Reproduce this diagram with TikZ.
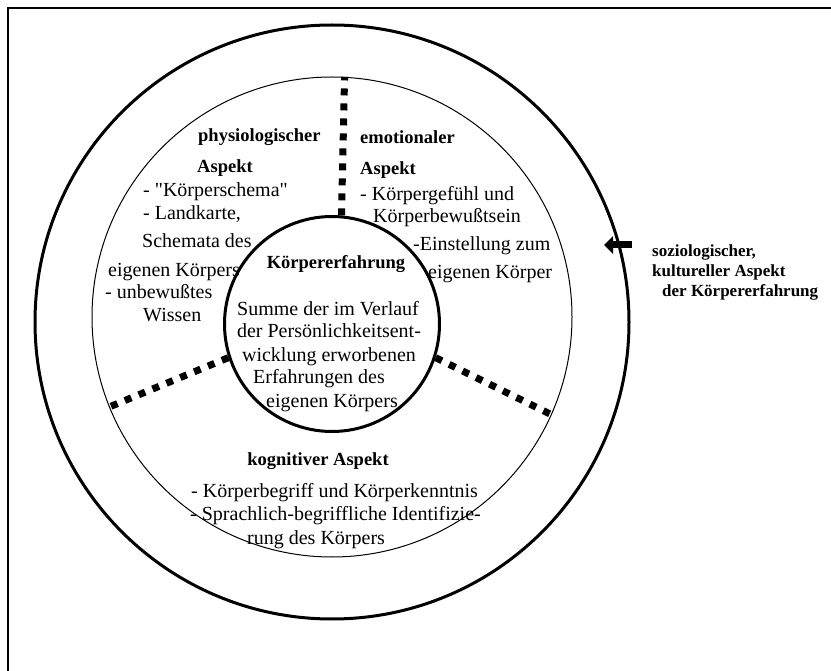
\documentclass[tikz,border=0pt]{standalone}
\usepackage{fontspec}
\setmainfont{Liberation Serif}[Ligatures=TeXOff]
\usetikzlibrary{arrows.meta}
\begin{document}
\begin{tikzpicture}[x=1pt,y=-1pt,
  body/.style={font=\fontsize{20}{23}\selectfont, inner sep=0pt, anchor=base west},
  bodyc/.style={body, anchor=base},
  head/.style={font=\fontsize{18.5}{21}\selectfont\bfseries, inner sep=0pt, anchor=base west},
  headc/.style={head, anchor=base},
  side/.style={font=\fontsize{17}{19}\selectfont\bfseries, inner sep=0pt, anchor=base west},
  ring/.style={circle, draw, inner sep=0pt},
  divider/.style={line width=7pt, dash pattern=on 7pt off 8pt},
]
\useasboundingbox (0,0) rectangle (831,671);

% frame (only top and left edges fall inside the page)
\draw[line width=2pt] (845,8) -- (8,8) -- (8,690);

% rings
\node[ring, line width=3pt, minimum size=594pt] (outer) at (332,322) {};
\node[ring, line width=1pt, minimum size=480pt] (mid) at (332,317) {};
\node[ring, line width=3pt, minimum size=215pt] (core) at (332,324) {};

% sector dividers
\draw[divider] (core.85) -- (mid.87.6);
\draw[divider] (core.198.6) -- (mid.202.3);
\draw[divider] (core.342) -- (mid.336.9);

% centre
\node[headc] (kt) at (336,269) {Körpererfahrung};
\node[bodyc] (k1) at (328,316) {Summe der im Verlauf};
\node[bodyc] (k2) at (329,338) {der Persönlichkeitsent-};
\node[bodyc] (k3) at (329,362) {wicklung erworbenen};
\node[bodyc] (k4) at (319,384) {Erfahrungen des};
\node[bodyc] (k5) at (332,407) {eigenen Körpers};

% physiological sector
\node[head] (pt1) at (198,142) {physiologischer};
\node[head] (pt2) at (197,173) {Aspekt};
\node[body] (p1) at (143,197) {- "Körperschema"};
\node[body] (p2) at (143,220) {- Landkarte,};
\node[body] (p3) at (142,248) {Schemata des};
\node[body] (p4) at (108,277) {eigenen Körpers};
\node[body] (p5) at (105,299) {- unbewußtes};
\node[body] (p6) at (143,322) {Wissen};

% emotional sector
\node[head] (et1) at (360,144) {emotionaler};
\node[head] (et2) at (360,175) {Aspekt};
\node[body] (e1) at (360,201) {- Körpergefühl und};
\node[body] (e2) at (373,223) {Körperbewußtsein};
\node[body] (e3) at (413,251) {-Einstellung zum};
\node[body] (e4) at (428,279) {eigenen Körper};

% cognitive sector
\node[headc] (ct) at (318,465) {kognitiver Aspekt};
\node[body] (c1) at (191,497) {- Körperbegriff und Körperkenntnis};
\node[body] (c2) at (190,520) {- Sprachlich-begriffliche Identifizie-};
\node[body] (c3) at (247,544) {rung des Körpers};

% sociological / cultural aspect
\node[side] (s1) at (652,257) {soziologischer,};
\node[side] (s2) at (652,277) {kultureller Aspekt};
\node[side] (s3) at (662,297) {der Körpererfahrung};
\coordinate (arrtail) at (632,245);
\coordinate (arrtip) at (604,245);
\draw[line width=7pt, -{Triangle[length=9pt,width=17pt]}] (arrtail) -- (arrtip);
\end{tikzpicture}
\end{document}
